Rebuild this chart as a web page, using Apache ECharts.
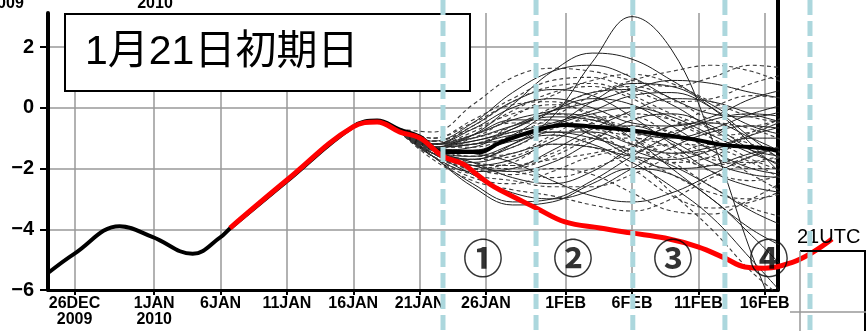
<!DOCTYPE html>
<html><head><meta charset="utf-8">
<script src="https://cdn.jsdelivr.net/npm/echarts@6/dist/echarts.min.js"></script>
<style>html,body{margin:0;padding:0;background:#fff}#c{width:866px;height:331px}</style>
</head><body><div id="c"></div>
<script>
// x values are days after 26 Dec 2009
const tickDays = [0, 6, 11, 16, 21, 26, 31, 37, 42, 47, 52];
const tickLabels = ['26DEC\n2009', '1JAN\n2010', '6JAN', '11JAN', '16JAN', '21JAN', '26JAN', '1FEB', '6FEB', '11FEB', '16FEB'];
const yTicks = [-6, -4, -2, 0, 2];
const yTickLabels = ['−6', '−4', '−2', '0', '2'];

// thick black: analysis + ensemble mean
const blackDays = [-2, 0, 3.4, 5.9, 8.9, 11, 11.7, 16, 21, 22.8, 24.5, 26, 27.8, 30.5, 32, 34.8, 37, 39.6, 41.9, 44.5, 47, 49, 52, 53];
const blackValues = [-5.44, -4.8, -3.9, -4.26, -4.81, -4.26, -3.98, -2.42, -0.62, -0.42, -0.72, -0.95, -1.46, -1.46, -1.16, -0.74, -0.57, -0.64, -0.74, -0.9, -1.07, -1.23, -1.33, -1.43];

// red: observed
const redDays = [11.71, 16.0, 20.98, 22.79, 24.52, 26.03, 27.76, 29.27, 30.17, 31.3, 32.05, 34.77, 36.95, 39.59, 41.92, 44.48, 46.97, 49.0, 50.51, 52.02, 54.13, 55.64, 57.07];
const redValues = [-3.96, -2.38, -0.63, -0.47, -0.80, -1.0, -1.6, -1.85, -2.15, -2.52, -2.71, -3.30, -3.76, -3.96, -4.12, -4.29, -4.58, -4.95, -5.24, -5.28, -5.08, -4.75, -4.32];

// ensemble members
const memberDays = [24.5, 27, 30, 33, 36, 39, 42, 45, 48, 51, 53.5];
const solidMembers = [
  [-0.75, -1.3, -0.9, 0.1, 1.2, 1.8, 1.6, 0.9, 0.1, -0.6, -0.9],
  [-0.7, -1.4, -1.6, -1.2, -0.6, -0.2, 0.0, -0.3, -0.9, -1.5, -1.9],
  [-0.8, -1.5, -2.2, -2.8, -3.0, -2.7, -2.0, -1.3, -0.8, -0.6, -0.7],
  [-0.75, -1.2, -0.6, 0.2, 0.6, 0.4, -0.3, -1.2, -2.1, -2.6, -2.8],
  [-0.8, -1.6, -2.5, -3.1, -3.0, -2.4, -1.6, -0.9, -0.4, -0.2, -0.3],
  [-0.7, -1.3, -1.2, -0.9, -0.8, -1.0, -1.4, -1.9, -2.6, -3.4, -3.9],
  [-0.75, -1.4, -1.7, -1.2, -0.3, 1.5, 3.0, 1.9, -1.0, -4.8, -7.5],
  [-0.7, -1.1, -0.5, 0.5, 1.2, 1.4, 1.0, 0.3, -0.2, -0.3, -0.1],
  [-0.8, -1.5, -1.9, -1.7, -1.1, -0.6, -0.6, -1.1, -1.8, -2.2, -2.3],
  [-0.75, -1.4, -1.3, -0.7, -0.2, -0.3, -1.0, -2.0, -3.0, -4.0, -4.6],
  [-0.8, -1.6, -2.1, -2.0, -1.4, -0.7, -0.1, 0.3, 0.2, -0.2, -0.5],
  [-0.7, -1.3, -1.4, -1.1, -0.9, -1.2, -1.8, -2.6, -3.6, -5.0, -6.2],
  [-0.75, -1.2, -0.9, -0.4, -0.1, 0.2, 0.6, 0.9, 0.8, 0.5, 0.3],
  [-0.8, -1.5, -1.8, -1.5, -1.2, -1.3, -1.6, -1.7, -1.4, -0.9, -0.6],
  [-0.75, -1.3, -1.5, -1.8, -2.4, -2.9, -3.1, -2.8, -2.2, -1.6, -1.3],
  [-0.7, -1.2, -0.7, 0.0, 0.3, 0.0, -0.5, -0.6, -0.3, 0.3, 0.6],
  [-0.8, -1.4, -1.8, -2.3, -2.5, -2.1, -1.3, -0.6, -0.5, -1.0, -1.5],
  [-0.75, -1.3, -1.1, -0.8, -0.5, -0.1, 0.4, 0.5, 0.0, -1.0, -1.8],
  [-0.8, -1.6, -2.6, -3.2, -3.1, -2.5, -2.0, -2.2, -3.0, -4.2, -5.3],
  [-0.7, -1.3, -1.2, -1.0, -0.6, 0.2, 0.8, 0.7, 0.0, -1.2, -2.3],
  [-0.75, -1.2, -1.0, -0.6, -0.3, -0.4, -0.8, -1.0, -0.7, -0.2, 0.1],
  [-0.8, -1.5, -1.7, -1.3, -0.8, -0.8, -1.2, -1.5, -1.3, -1.0, -1.0],
  [-0.7, -1.3, -1.4, -0.9, -0.1, 0.5, 0.6, 0.1, -0.7, -1.4, -1.6],
  [-0.75, -1.4, -1.9, -2.1, -1.8, -1.1, -0.4, -0.2, -0.6, -1.4, -2.0],
  [-0.8, -1.3, -0.9, -0.4, -0.4, -0.9, -1.6, -2.0, -1.9, -1.5, -1.3],
  [-0.7, -1.2, -1.1, -0.7, -0.1, 0.3, 0.1, -0.6, -1.4, -2.0, -2.2]
];
const dashedMembers = [
  [-0.7, -0.8, 0.1, 1.0, 1.3, 1.2, 0.9, 0.7, 1.0, 1.4, 1.3],
  [-0.7, -1.0, -0.4, 0.3, 0.9, 1.0, 0.6, 0.2, 0.3, 0.8, 1.1],
  [-0.8, -1.6, -2.3, -2.5, -2.1, -1.6, -1.4, -1.8, -2.6, -3.3, -3.6],
  [-0.75, -1.3, -1.6, -1.5, -0.9, -0.3, -0.3, -0.9, -1.6, -2.0, -2.0],
  [-0.8, -1.7, -2.4, -2.7, -2.9, -3.2, -3.4, -3.0, -2.3, -1.8, -1.6],
  [-0.7, -1.1, -0.7, -0.2, 0.1, -0.2, -0.9, -1.6, -1.9, -1.6, -1.2],
  [-0.75, -1.3, -1.3, -0.9, -0.3, 0.4, 0.9, 1.2, 1.4, 1.2, 0.8],
  [-0.8, -1.4, -1.9, -2.0, -1.6, -1.0, -0.6, -0.8, -1.4, -2.2, -2.8],
  [-0.7, -1.2, -0.9, -0.5, -0.5, -0.9, -1.5, -2.2, -2.8, -3.0, -2.8],
  [-0.75, -1.5, -2.0, -2.2, -2.0, -2.2, -2.8, -3.4, -3.5, -3.0, -2.4],
  [-0.8, -1.2, -0.8, -0.1, 0.5, 0.7, 0.3, -0.4, -0.9, -0.8, -0.4],
  [-0.7, -1.3, -1.6, -1.3, -0.7, -0.4, -0.7, -1.4, -2.1, -2.4, -2.2],
  [-0.75, -1.0, -0.5, 0.1, 0.2, -0.3, -1.0, -1.5, -1.4, -0.8, -0.3],
  [-0.8, -1.5, -2.0, -1.8, -1.2, -1.3, -2.0, -2.9, -3.3, -3.1, -2.7],
  [-0.7, -1.1, -1.0, -0.6, 0.0, 0.5, 0.7, 0.3, -0.4, -0.6, -0.3],
  [-0.75, -1.4, -1.8, -1.9, -1.7, -1.5, -1.2, -0.8, -0.5, -0.7, -1.1],
  [-0.8, -1.6, -2.2, -2.4, -2.6, -2.6, -2.2, -1.6, -1.2, -1.3, -1.7],
  [-0.7, -1.3, -1.0, -0.3, 0.4, 0.9, 1.1, 0.8, 0.2, -0.3, -0.5],
  [-0.8, -1.4, -1.5, -1.0, -0.6, -0.8, -1.6, -2.8, -4.0, -5.4, -6.3],
  [-0.75, -1.3, -1.2, -0.8, -0.6, -0.7, -0.9, -0.6, 0.0, 0.4, 0.3],
  [-0.8, -1.5, -1.9, -1.9, -1.5, -1.0, -1.0, -1.3, -1.7, -1.8, -1.6],
  [-0.7, -1.1, -0.6, 0.2, 0.7, 0.8, 0.4, -0.2, -0.7, -1.2, -1.5],
  [-0.75, -1.4, -1.7, -1.6, -1.0, -0.5, -0.2, -0.4, -1.0, -1.7, -2.1],
  [-0.8, -1.6, -2.0, -2.1, -2.3, -2.0, -1.5, -1.2, -1.3, -1.8, -2.4],
  [-0.7, -1.2, -1.2, -0.6, -0.2, -0.5, -1.2, -1.8, -1.6, -0.9, -0.4]
];

// weekly separators and period labels
const weekLineDays = [27.76, 34.77, 42.06, 49.0, 55.41];
const circleDays = [30.77, 37.55, 45.09, 52.32];
const circleValue = -4.95;
const circleLabels = ['①', '②', '③', '④'];

const chart = echarts.init(document.getElementById('c'), null, {renderer: 'canvas'});
const pair = (xs, ys) => xs.map((x, i) => [x, ys[i]]);
const series = [];
solidMembers.forEach(v => series.push({
  type: 'line', xAxisIndex: 0, yAxisIndex: 0, data: pair(memberDays, v), smooth: 0.4,
  symbol: 'none', silent: true, z: 3, lineStyle: {color: '#1e1e1e', width: 1}
}));
dashedMembers.forEach(v => series.push({
  type: 'line', xAxisIndex: 0, yAxisIndex: 0, data: pair(memberDays, v), smooth: 0.4,
  symbol: 'none', silent: true, z: 3, lineStyle: {color: '#3a3a3a', width: 1.1, type: [4, 3]}
}));
series.push({
  type: 'line', xAxisIndex: 0, yAxisIndex: 0, data: pair(blackDays, blackValues), smooth: 0.4,
  symbol: 'none', silent: true, z: 4, lineStyle: {color: '#000', width: 4}
});
series.push({
  type: 'line', xAxisIndex: 1, yAxisIndex: 2, data: pair(redDays, redValues), smooth: 0.4,
  symbol: 'none', silent: true, z: 5, lineStyle: {color: '#ff0000', width: 5}
});
series.push({
  type: 'scatter', xAxisIndex: 0, yAxisIndex: 0, data: circleDays.map(d => [d, circleValue]),
  symbolSize: 1, itemStyle: {color: 'rgba(0,0,0,0)'}, silent: true, z: 6,
  label: {show: true, position: 'inside', formatter: p => circleLabels[p.dataIndex],
    fontSize: 40, fontWeight: 'bold', color: '#000', fontFamily: '"Noto Sans CJK JP"'}
});
weekLineDays.forEach(d => series.push({
  type: 'line', xAxisIndex: 2, yAxisIndex: 3, data: [[d, 1], [d, 0]], symbol: 'none', silent: true, z: 60,
  lineStyle: {color: '#acd7dd', width: 5, type: [15, 6]}
}));

const option = {
  animation: false,
  backgroundColor: '#fff',
  grid: [
    {left: 48, right: 88, top: 13, bottom: 41},
    {left: 48, right: 8.36, top: 13, bottom: 41},
    {left: 48, right: 8.36, top: 0, bottom: 0}
  ],
  xAxis: [
    {gridIndex: 0, type: 'value', min: -2, max: 53,
      axisLine: {show: true, onZero: false, lineStyle: {color: '#000', width: 3}},
      axisTick: {show: true, customValues: tickDays, length: 5, lineStyle: {color: '#000', width: 2}},
      axisLabel: {customValues: tickDays, formatter: v => tickLabels[tickDays.indexOf(v)],
        fontFamily: '"Liberation Sans"', fontWeight: 'bold', fontSize: 16, lineHeight: 16, color: '#000', margin: 6},
      splitLine: {show: true, lineStyle: {color: '#999', width: 1.5}}},
    {gridIndex: 1, type: 'value', min: -2, max: 59, show: false},
    {gridIndex: 2, type: 'value', min: -2, max: 59, show: false}
  ],
  yAxis: [
    {gridIndex: 0, type: 'value', min: -6, max: 3.12,
      axisLine: {show: true, onZero: false, lineStyle: {color: '#000', width: 4}},
      axisTick: {show: true, customValues: yTicks, length: 8, lineStyle: {color: '#000', width: 2}},
      axisLabel: {customValues: yTicks, formatter: v => yTickLabels[yTicks.indexOf(v)],
        fontFamily: '"Liberation Sans"', fontWeight: 'bold', fontSize: 20, color: '#000', margin: 14},
      splitLine: {show: true, lineStyle: {color: '#999', width: 1.5}}},
    {gridIndex: 0, type: 'value', min: -6, max: 3.12, position: 'right',
      axisLine: {show: true, onZero: false, lineStyle: {color: '#000', width: 4}},
      axisTick: {show: false}, axisLabel: {show: false}, splitLine: {show: false}},
    {gridIndex: 1, type: 'value', min: -6, max: 3.12, show: false},
    {gridIndex: 2, type: 'value', min: 0, max: 1, show: false}
  ],
  graphic: [
    {type: 'rect', z: 50, shape: {x: 65, y: 14, width: 405, height: 77},
      style: {fill: '#fff', stroke: '#000', lineWidth: 2}},
    {type: 'text', z: 51, x: 85, y: 53,
      style: {text: '1月21日初期日', font: '41px "Liberation Sans", "Noto Sans CJK JP"', fill: '#000',
        align: 'left', verticalAlign: 'middle'}},
    {type: 'text', z: 51, x: 155, y: 4,
      style: {text: '2010', font: 'bold 16px "Liberation Sans"', fill: '#000', align: 'center', verticalAlign: 'middle'}},
    {type: 'text', z: 51, x: 6, y: 4,
      style: {text: '2009', font: 'bold 16px "Liberation Sans"', fill: '#000', align: 'center', verticalAlign: 'middle'}},
    {type: 'line', z: 40, shape: {x1: 778, y1: 0, x2: 778, y2: 14}, style: {stroke: '#000', lineWidth: 4}},
    {type: 'text', z: 40, x: 797, y: 237,
      style: {text: '21UTC', font: '20px "Liberation Sans"', fill: '#000', align: 'left', verticalAlign: 'middle'}},
    {type: 'line', z: 40, shape: {x1: 800, y1: 251, x2: 866, y2: 251}, style: {stroke: '#000', lineWidth: 2}},
    {type: 'line', z: 40, shape: {x1: 865, y1: 251, x2: 865, y2: 331}, style: {stroke: '#000', lineWidth: 2}},
    {type: 'line', z: 40, shape: {x1: 800, y1: 251, x2: 800, y2: 331}, style: {stroke: '#999', lineWidth: 1.5}},
    {type: 'line', z: 40, shape: {x1: 790, y1: 312, x2: 866, y2: 312}, style: {stroke: '#999', lineWidth: 1.5}}
  ],
  series: series
};
chart.setOption(option);
</script>
</body></html>
